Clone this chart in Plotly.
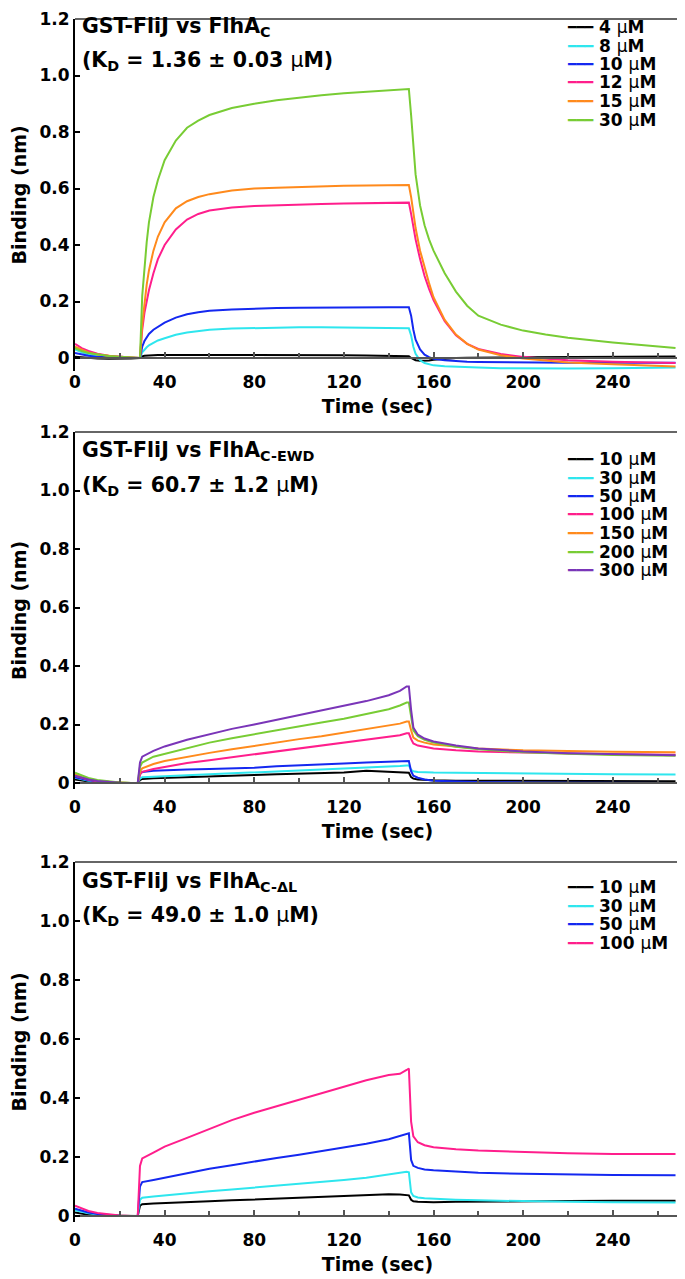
import plotly.graph_objects as go

# ---------------- data ----------------
# Panel 1: GST-FliJ vs FlhA_C
T1 = [0, 3, 6, 10, 15, 20, 25, 29, 30, 31, 32, 33, 35, 37, 40, 45, 50, 55, 60, 70, 80, 90, 100,
      110, 120, 130, 140, 149, 150, 151, 152, 154, 156, 158, 160, 165, 170, 175, 180, 190, 200,
      210, 220, 240, 255, 268]
p1_4uM = [0.004, 0.002, 0.0, -0.002, -0.003, -0.003, -0.002, 0.0, 0.006, 0.008, 0.009, 0.01, 0.01, 0.011,
          0.011, 0.012, 0.011, 0.012, 0.011, 0.012, 0.011, 0.011, 0.01, 0.011, 0.01, 0.009, 0.008, 0.006,
          0.0, -0.005, -0.008, -0.01, -0.01, -0.009, -0.006, -0.002, 0.0, 0.001, 0.002, 0.002, 0.003,
          0.003, 0.004, 0.004, 0.005, 0.005]
p1_8uM = [0.03, 0.02, 0.013, 0.007, 0.003, 0.001, 0.0, 0.0, 0.02, 0.03, 0.038, 0.045, 0.055, 0.062, 0.07,
          0.082, 0.09, 0.096, 0.1, 0.104, 0.106, 0.108, 0.109, 0.109, 0.108, 0.107, 0.106, 0.105,
          0.08, 0.04, 0.015, -0.008, -0.018, -0.023, -0.026, -0.029, -0.031, -0.033, -0.034, -0.036,
          -0.037, -0.037, -0.037, -0.036, -0.035, -0.034]
p1_10uM = [0.018, 0.012, 0.008, 0.004, 0.002, 0.0, 0.0, 0.0, 0.04, 0.06, 0.075, 0.085, 0.1, 0.11, 0.125,
           0.143, 0.155, 0.162, 0.167, 0.172, 0.175, 0.177, 0.178, 0.179, 0.18, 0.18, 0.18, 0.18,
           0.15, 0.1, 0.065, 0.03, 0.012, 0.003, -0.003, -0.008, -0.011, -0.013, -0.014, -0.015,
           -0.016, -0.016, -0.017, -0.017, -0.017, -0.017]
p1_12uM = [0.05, 0.035, 0.025, 0.015, 0.008, 0.004, 0.002, 0.0, 0.1, 0.16, 0.2, 0.24, 0.3, 0.35, 0.4,
           0.455, 0.49, 0.51, 0.522, 0.533, 0.538, 0.541, 0.543, 0.545, 0.547, 0.548, 0.549, 0.55,
           0.51, 0.46, 0.42, 0.35, 0.29, 0.245, 0.205, 0.13, 0.08, 0.05, 0.032, 0.014, 0.004, -0.003,
           -0.008, -0.013, -0.016, -0.018]
p1_15uM = [0.04, 0.03, 0.02, 0.012, 0.007, 0.004, 0.002, 0.0, 0.12, 0.2, 0.26, 0.31, 0.38, 0.43, 0.48,
           0.53, 0.555, 0.57, 0.58, 0.593, 0.6, 0.603, 0.606, 0.608, 0.61, 0.611, 0.612, 0.612,
           0.57, 0.51, 0.46, 0.38, 0.32, 0.265, 0.215, 0.135, 0.083, 0.05, 0.03, 0.01, -0.002, -0.01,
           -0.016, -0.022, -0.027, -0.03]
p1_30uM = [0.035, 0.025, 0.018, 0.012, 0.007, 0.004, 0.002, 0.0, 0.22, 0.33, 0.41, 0.48, 0.57, 0.63, 0.7,
           0.77, 0.815, 0.84, 0.86, 0.885, 0.9, 0.912, 0.922, 0.93, 0.937, 0.942, 0.946, 0.952,
           0.86, 0.74, 0.65, 0.54, 0.47, 0.42, 0.38, 0.3, 0.235, 0.185, 0.15, 0.118, 0.097, 0.083,
           0.072, 0.055, 0.044, 0.035]
P1_conc = [4, 8, 10, 12, 15, 30]
P1_colors = ["#000000", "#2ee6ee", "#1428f0", "#ff1e8c", "#ff8a1c", "#78cc34"]

# Panel 2: GST-FliJ vs FlhA_C-EWD
T2 = [0, 3, 6, 10, 15, 20, 25, 28, 29, 30, 35, 40, 50, 60, 70, 80, 90, 100, 110, 120, 130, 140,
      145, 148, 149, 150, 151, 153, 156, 160, 170, 180, 200, 220, 240, 268]
p2_10uM = [0.012, 0.008, 0.004, 0.001, 0.0, 0.0, 0.0, 0.0, 0.01, 0.014, 0.016, 0.017, 0.02, 0.022, 0.025,
           0.027, 0.03, 0.032, 0.034, 0.036, 0.042, 0.038, 0.037, 0.036, 0.035, 0.02, 0.015, 0.012,
           0.01, 0.009, 0.008, 0.008, 0.007, 0.007, 0.006, 0.006]
p2_30uM = [0.018, 0.012, 0.008, 0.004, 0.002, 0.0, 0.0, 0.0, 0.015, 0.02, 0.022, 0.024, 0.027, 0.03, 0.033,
           0.036, 0.039, 0.042, 0.045, 0.048, 0.052, 0.056, 0.058, 0.06, 0.06, 0.045, 0.04, 0.038,
           0.037, 0.036, 0.035, 0.034, 0.032, 0.031, 0.03, 0.029]
p2_50uM = [0.02, 0.014, 0.009, 0.005, 0.002, 0.0, 0.0, 0.0, 0.03, 0.038, 0.042, 0.044, 0.046, 0.048, 0.05,
           0.052, 0.057, 0.061, 0.064, 0.067, 0.07, 0.073, 0.075, 0.076, 0.075, 0.04, 0.025, 0.018,
           0.012, 0.008, 0.005, 0.003, 0.002, 0.001, 0.0, 0.0]
p2_100uM = [0.025, 0.017, 0.011, 0.006, 0.003, 0.001, 0.0, 0.0, 0.03, 0.038, 0.048, 0.055, 0.068, 0.078,
            0.088, 0.098, 0.108, 0.118, 0.127, 0.137, 0.147, 0.157, 0.163, 0.17, 0.17, 0.15, 0.135,
            0.128, 0.123, 0.118, 0.112, 0.108, 0.104, 0.1, 0.098, 0.097]
p2_150uM = [0.03, 0.02, 0.014, 0.008, 0.004, 0.001, 0.0, 0.0, 0.04, 0.05, 0.065, 0.075, 0.09, 0.103,
            0.115, 0.127, 0.138, 0.15, 0.16, 0.172, 0.183, 0.195, 0.203, 0.21, 0.21, 0.18, 0.155,
            0.145, 0.138, 0.132, 0.124, 0.118, 0.112, 0.109, 0.107, 0.105]
p2_200uM = [0.035, 0.025, 0.017, 0.01, 0.005, 0.002, 0.0, 0.0, 0.055, 0.07, 0.09, 0.1, 0.12, 0.138,
            0.153, 0.167, 0.18, 0.194, 0.207, 0.22, 0.235, 0.252, 0.265, 0.275, 0.275, 0.22, 0.18,
            0.16, 0.148, 0.138, 0.124, 0.115, 0.105, 0.1, 0.096, 0.093]
p2_300uM = [0.025, 0.018, 0.012, 0.007, 0.003, 0.001, 0.0, 0.0, 0.07, 0.09, 0.11, 0.125, 0.148, 0.167,
            0.185, 0.2, 0.216, 0.232, 0.247, 0.263, 0.28, 0.3, 0.315, 0.33, 0.33, 0.25, 0.19, 0.165,
            0.152, 0.142, 0.128, 0.118, 0.108, 0.102, 0.098, 0.095]
P2_conc = [10, 30, 50, 100, 150, 200, 300]
P2_colors = ["#000000", "#2ee6ee", "#1428f0", "#ff1e8c", "#ff8a1c", "#78cc34", "#7a35b8"]

# Panel 3: GST-FliJ vs FlhA_C-ΔL
T3 = [0, 3, 6, 10, 15, 20, 25, 28, 29, 30, 35, 40, 50, 60, 70, 80, 90, 100, 110, 120, 130, 140,
      145, 148, 149, 150, 151, 153, 156, 160, 170, 180, 200, 220, 240, 268]
p3_10uM = [0.012, 0.008, 0.004, 0.002, 0.001, 0.0, 0.0, 0.0, 0.035, 0.04, 0.042, 0.044, 0.047, 0.05,
           0.053, 0.056, 0.059, 0.062, 0.065, 0.068, 0.072, 0.074, 0.073, 0.072, 0.07, 0.055, 0.05,
           0.048, 0.047, 0.047, 0.048, 0.049, 0.05, 0.051, 0.052, 0.052]
p3_30uM = [0.02, 0.014, 0.009, 0.005, 0.002, 0.001, 0.0, 0.0, 0.055, 0.062, 0.066, 0.07, 0.077, 0.084,
           0.09, 0.096, 0.102, 0.108, 0.115, 0.122, 0.13, 0.14, 0.146, 0.15, 0.148, 0.08, 0.068,
           0.063, 0.06, 0.058, 0.055, 0.053, 0.05, 0.048, 0.047, 0.046]
p3_50uM = [0.025, 0.018, 0.012, 0.007, 0.003, 0.001, 0.0, 0.0, 0.1, 0.115, 0.122, 0.13, 0.145, 0.16,
           0.172, 0.185, 0.197, 0.208, 0.22, 0.232, 0.245, 0.26, 0.27, 0.278, 0.28, 0.19, 0.17,
           0.163, 0.158, 0.155, 0.15, 0.147, 0.143, 0.14, 0.139, 0.138]
p3_100uM = [0.035, 0.025, 0.017, 0.01, 0.005, 0.002, 0.0, 0.0, 0.17, 0.195, 0.215, 0.235, 0.265, 0.295,
            0.325, 0.35, 0.372, 0.395, 0.418, 0.44, 0.46, 0.478, 0.482, 0.495, 0.5, 0.32, 0.27,
            0.25, 0.24, 0.233, 0.226, 0.222, 0.217, 0.213, 0.21, 0.21]
P3_conc = [10, 30, 50, 100]
P3_colors = ["#000000", "#2ee6ee", "#1428f0", "#ff1e8c"]

Y_TICKS = [0, 0.2, 0.4, 0.6, 0.8, 1.0, 1.2]
Y_TICKTEXT = ["0", "0.2", "0.4", "0.6", "0.8", "1.0", "1.2"]
X_TICKS = [0, 40, 80, 120, 160, 200, 240]

MU = "<span style='font-weight:normal'>μ</span>"
TITLE1 = ["GST-FliJ vs FlhA<sub>C</sub>", "(K<sub>D</sub> = 1.36 ± 0.03 " + MU + "M)"]
TITLE2 = ["GST-FliJ vs FlhA<sub>C-EWD</sub>", "(K<sub>D</sub> = 60.7 ± 1.2 " + MU + "M)"]
TITLE3 = ["GST-FliJ vs FlhA<sub>C-ΔL</sub>", "(K<sub>D</sub> = 49.0 ± 1.0 " + MU + "M)"]

# ---------------- layout helpers ----------------
# the page body has an 8 px margin, so the figure starts at (8, 8) in the window
OFF = 8
W, H = 685 - OFF, 1279 - OFF
FONT = "DejaVu Sans"
X_LEFT, X_RIGHT = 75, 680
X_MAX = 270


def fy(px):
    return 1 - (px - OFF) / H


def fx(px):
    return (px - OFF) / W


panels = [
    dict(T=T1, series=[p1_4uM, p1_8uM, p1_10uM, p1_12uM, p1_15uM, p1_30uM], conc=P1_conc,
         colors=P1_colors, title=TITLE1, top=19, zero=358, ymin=-0.045, leg0=27, tpos=[27, 61]),
    dict(T=T2, series=[p2_10uM, p2_30uM, p2_50uM, p2_100uM, p2_150uM, p2_200uM, p2_300uM],
         conc=P2_conc, colors=P2_colors, title=TITLE2, top=432, zero=783, ymin=-0.02, leg0=459,
         tpos=[451, 486]),
    dict(T=T3, series=[p3_10uM, p3_30uM, p3_50uM, p3_100uM], conc=P3_conc, colors=P3_colors,
         title=TITLE3, top=862, zero=1216, ymin=-0.02, leg0=887, tpos=[882, 916]),
]

fig = go.Figure()
annotations = []
shapes = []
layout = dict(
    width=W, height=H,
    margin=dict(l=0, r=0, t=0, b=0),
    paper_bgcolor="white", plot_bgcolor="white",
    font=dict(family=FONT, color="black", size=17),
    showlegend=False,
)

for i, p in enumerate(panels, start=1):
    sfx = "" if i == 1 else str(i)
    xname, yname = "x" + sfx, "y" + sfx
    ppu = (p["zero"] - p["top"]) / 1.2
    bottom = p["zero"] + (-p["ymin"]) * ppu
    for vals, col in zip(p["series"], p["colors"]):
        fig.add_trace(go.Scatter(x=p["T"], y=vals, mode="lines",
                                 line=dict(color=col, width=2),
                                 xaxis=xname, yaxis=yname, hoverinfo="skip"))
    layout["xaxis" + sfx] = dict(
        domain=[fx(X_LEFT), fx(X_RIGHT)], range=[0, X_MAX],
        anchor="free", position=fy(p["zero"]),
        showline=True, linecolor="#555555", linewidth=1.5,
        ticks="inside", ticklen=5, tickcolor="#555555", tickwidth=1.5,
        tickvals=X_TICKS, ticklabelstandoff=9, ticklabeloverflow="allow",
        minor=dict(ticks="inside", ticklen=4, dtick=20, tick0=0, tickcolor="#555555"),
        showgrid=False, zeroline=False,
        tickfont=dict(family=FONT, size=17, weight="bold"),
        title=dict(text="Time (sec)", font=dict(family=FONT, size=19, weight="bold"), standoff=8),
        automargin=False,
    )
    layout["yaxis" + sfx] = dict(
        domain=[fy(bottom), fy(p["top"])], range=[p["ymin"], 1.2],
        anchor=xname,
        showline=True, linecolor="black", linewidth=2,
        ticks="inside", ticklen=5, tickcolor="black", tickwidth=1.5,
        tickvals=Y_TICKS, ticktext=Y_TICKTEXT, ticklabeloverflow="allow",
        showgrid=False, zeroline=False,
        tickfont=dict(family=FONT, size=17, weight="bold"),
        title=dict(text="Binding (nm)", font=dict(family=FONT, size=19, weight="bold"), standoff=14),
        automargin=False,
    )
    # top and right frame
    for (x0, y0, x1, y1) in [(0, 1, 1, 1), (1, 0, 1, 1)]:
        shapes.append(dict(type="line", xref=xname + " domain", yref=yname + " domain",
                           x0=x0, y0=y0, x1=x1, y1=y1, line=dict(color="#333333", width=1.5)))
    # panel titles
    for txt, ypx in zip(p["title"], p["tpos"]):
        annotations.append(dict(text="<b>" + txt + "</b>", xref="paper", yref="paper",
                                x=fx(80), y=fy(ypx), xanchor="left", yanchor="middle",
                                showarrow=False, font=dict(family=FONT, size=20.5, color="black")))
    # legend rows
    for k, (c, col) in enumerate(zip(p["conc"], p["colors"])):
        ypx = p["leg0"] + k * 18.5
        annotations.append(dict(text="━━━", xref="paper", yref="paper", x=fx(565), y=fy(ypx),
                                xanchor="left", yanchor="middle", showarrow=False,
                                font=dict(family=FONT, size=14, color=col)))
        annotations.append(dict(text="<b>%d " % c + MU + "M</b>",
                                xref="paper", yref="paper", x=fx(597), y=fy(ypx),
                                xanchor="left", yanchor="middle", showarrow=False,
                                font=dict(family=FONT, size=17, color="black")))

layout["annotations"] = annotations
layout["shapes"] = shapes
fig.update_layout(**layout)
fig.write_html("out.html")
